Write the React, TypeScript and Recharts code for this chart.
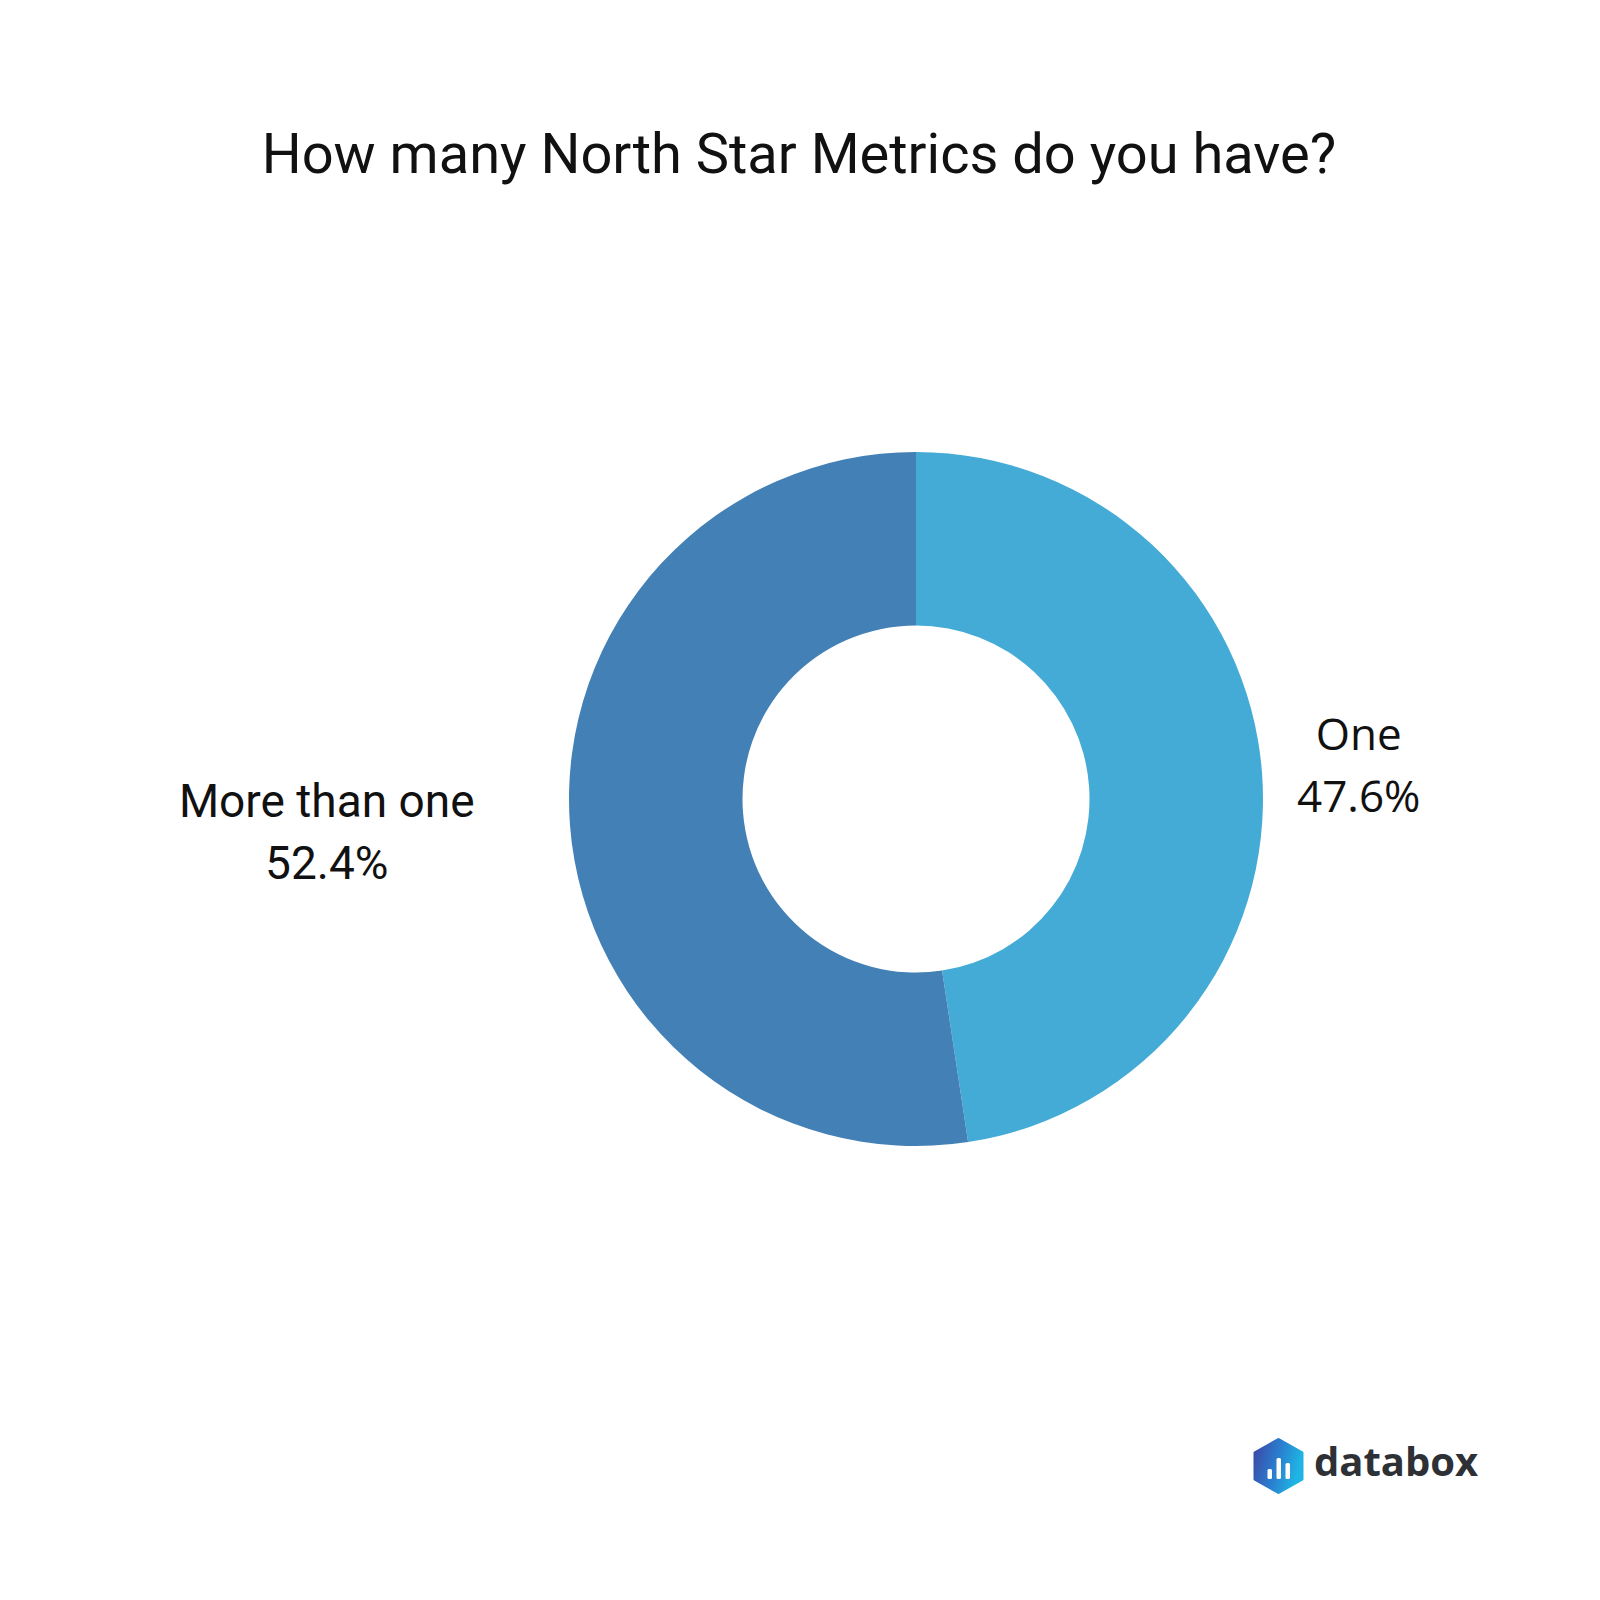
import { PieChart, Pie, Cell } from "recharts"

const title = "How many North Star Metrics do you have?"

// answers, clockwise from 12 o'clock
const answers = ["One", "More than one"]
const shares = [47.6, 52.4]
const sliceColors = ["#44abd6", "#4280b5"]
const labelFonts = ["'Open Sans', sans-serif", "Roboto, sans-serif"]
const labelSizes = [44, 46]

const RADIAN = Math.PI / 180

const chartData = answers.map((name, i) => ({ name, value: shares[i] }))

const renderLabel = (props: any) => {
  const { cx, cy, midAngle, outerRadius, index } = props
  const r = outerRadius + 97
  const x0 = cx + r * Math.cos(-midAngle * RADIAN)
  const y0 = cy + r * Math.sin(-midAngle * RADIAN)
  const name = answers[index]
  const pct = `${shares[index].toFixed(1)}%`
  const fs = labelSizes[index]
  // left side labels end at the anchor point, right side ones are centred on it
  const estWidth = Math.max(name.length, pct.length) * 0.49 * fs
  const x = x0 >= cx ? x0 : x0 - estWidth / 2
  return (
    <text x={x} y={y0} textAnchor="middle" fill="#111" fontSize={fs} fontFamily={labelFonts[index]}>
      <tspan x={x} y={y0 - 15.5}>{name}</tspan>
      <tspan x={x} y={y0 + 46.5}>{pct}</tspan>
    </text>
  )
}

function Overlay() {
  // title + databox logo (pointy-top hexagon with three bars + wordmark)
  const hx = 1278.5
  const hy = 1466
  const w = 23.5
  const h = 26.5
  const hex = [
    [hx, hy - h],
    [hx + w, hy - h / 2],
    [hx + w, hy + h / 2],
    [hx, hy + h],
    [hx - w, hy + h / 2],
    [hx - w, hy - h / 2],
  ]
    .map((p) => p.join(","))
    .join(" ")
  return (
    <svg width={1600} height={1600} style={{ position: "absolute", left: 0, top: 0, pointerEvents: "none" }}>
      <defs>
        <linearGradient id="dbx" x1="0" y1="0" x2="1" y2="0.3">
          <stop offset="0%" stopColor="#3c47a6" />
          <stop offset="55%" stopColor="#2a7fcf" />
          <stop offset="100%" stopColor="#1fb4e3" />
        </linearGradient>
      </defs>
      <text x={799} y={173} textAnchor="middle" fontSize={56} fill="#111" fontFamily="Roboto, sans-serif">
        {title}
      </text>
      <polygon points={hex} fill="url(#dbx)" strokeLinejoin="round" stroke="url(#dbx)" strokeWidth={3} />
      <rect x={1267.5} y={1469} width={4.5} height={10} rx={1.5} fill="#fff" />
      <rect x={1276.5} y={1458} width={4.5} height={21} rx={1.5} fill="#fff" />
      <rect x={1285.5} y={1463} width={4.5} height={16} rx={1.5} fill="#fff" />
      <text x={1314} y={1476} fontSize={40} fontWeight={700} fill="#2d3035" fontFamily="'Open Sans', sans-serif">
        databox
      </text>
    </svg>
  )
}

export default function App() {
  return (
    <div style={{ position: "absolute", left: 0, top: 0, width: 1600, height: 1600, background: "#fff" }}>
      <PieChart width={1600} height={1600} margin={{ top: 0, right: 0, bottom: 0, left: 0 }}>
        <Pie
          data={chartData}
          dataKey="value"
          nameKey="name"
          cx={916}
          cy={799}
          innerRadius={173.5}
          outerRadius={347}
          startAngle={90}
          endAngle={-270}
          stroke="none"
          label={renderLabel}
          labelLine={false}
          isAnimationActive={false}
        >
          {chartData.map((entry, i) => (
            <Cell key={entry.name} fill={sliceColors[i]} />
          ))}
        </Pie>
      </PieChart>
      <Overlay />
    </div>
  )
}
